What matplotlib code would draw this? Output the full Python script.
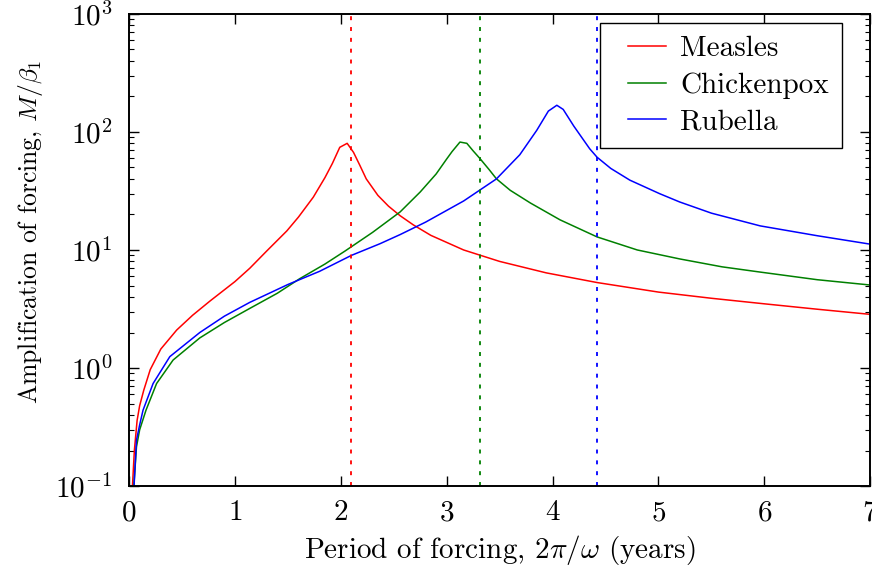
import matplotlib
matplotlib.use("Agg")
import matplotlib.pyplot as plt
from matplotlib.legend_handler import HandlerLine2D

plt.rcParams['font.family'] = ['cmr10', 'DejaVu Serif']
plt.rcParams['mathtext.fontset'] = 'cm'
plt.rcParams['axes.formatter.use_mathtext'] = True
plt.rcParams['axes.unicode_minus'] = False

# measles
measles_x = [0.032, 0.05, 0.076, 0.1, 0.139, 0.2, 0.3, 0.45, 0.6, 0.765, 1.0, 1.14,
             1.3, 1.49, 1.6, 1.74, 1.85, 1.92, 1.99, 2.06, 2.12, 2.18, 2.24, 2.35,
             2.45, 2.56, 2.685, 2.85, 3.16, 3.5, 3.94, 4.42, 5.0, 5.5, 6.0, 6.5, 7.0]
measles_y = [0.1, 0.2, 0.36, 0.48, 0.65, 0.97, 1.45, 2.1, 2.8, 3.7, 5.4, 7.0,
             9.8, 14.5, 19.0, 28.0, 41.0, 54.0, 74.0, 80.0, 67.0, 52.0, 40.0, 29.0,
             23.5, 19.5, 16.3, 13.3, 10.0, 8.0, 6.4, 5.3, 4.4, 3.9, 3.5, 3.15, 2.85]

# chickenpox
chicken_x = [0.045, 0.07, 0.1, 0.16, 0.26, 0.416, 0.668, 0.9, 1.14, 1.4, 1.61, 1.85,
             2.04, 2.3, 2.56, 2.75, 2.9, 3.0, 3.05, 3.125, 3.19, 3.25, 3.31, 3.4,
             3.47, 3.6, 3.79, 4.07, 4.42, 4.8, 5.2, 5.6, 5.96, 6.5, 7.0]
chicken_y = [0.1, 0.215, 0.3, 0.44, 0.74, 1.17, 1.8, 2.43, 3.2, 4.3, 5.7, 7.6,
             9.8, 14.1, 21.0, 31.0, 44.0, 59.0, 68.0, 82.0, 80.0, 69.0, 60.0, 48.0,
             40.0, 32.0, 25.0, 18.0, 12.9, 10.0, 8.4, 7.2, 6.5, 5.6, 5.05]

# rubella
rubella_x = [0.047, 0.07, 0.1, 0.132, 0.227, 0.385, 0.668, 0.9, 1.14, 1.5, 1.8, 2.1,
             2.37, 2.56, 2.8, 3.16, 3.47, 3.69, 3.85, 3.96, 4.04, 4.1, 4.2, 4.35,
             4.42, 4.55, 4.73, 5.01, 5.2, 5.5, 5.96, 6.5, 7.0]
rubella_y = [0.1, 0.245, 0.33, 0.44, 0.74, 1.25, 2.0, 2.75, 3.6, 5.1, 6.6, 9.0,
             11.3, 13.5, 17.2, 26.0, 40.0, 64.0, 103.0, 150.0, 168.0, 155.0, 112.0, 72.0,
             61.0, 49.0, 39.0, 30.0, 25.5, 20.5, 16.0, 13.2, 11.2]

# resonance periods (dotted lines)
resonance = [2.10, 3.31, 4.42]
names = ["Measles", "Chickenpox", "Rubella"]
colours = ["red", "green", "blue"]

fig = plt.figure(figsize=(8.72, 5.74), dpi=100)
ax = fig.add_axes([0.148, 0.153, 0.850, 0.823])

series = [(measles_x, measles_y), (chicken_x, chicken_y), (rubella_x, rubella_y)]
for (x, y), name, c in zip(series, names, colours):
    ax.plot(x, y, color=c, lw=1.1, label=name)
for xr, c in zip(resonance, colours):
    ax.axvline(xr, color=c, ls=(0, (2.2, 3.8)), lw=1.3)

ax.set_yscale("log")
ax.set_xlim(0, 7)
ax.set_ylim(0.1, 1000)
ax.set_xticks(range(0, 8))
ax.tick_params(which="both", direction="in", top=True, right=True, labelsize=21)
ax.tick_params(axis="x", pad=10)
ax.tick_params(axis="y", pad=12)
ax.tick_params(which="major", length=7.5, width=1)
ax.tick_params(which="minor", length=3.5, width=0.8)
for s in ax.spines.values():
    s.set_linewidth(1.4)

ax.set_xlabel(r"Period of forcing, $2\pi/\omega$ (years)", fontsize=21, labelpad=5)
ax.set_ylabel(r"Amplification of forcing, $M/\beta_1$", fontsize=18.5)
ax.yaxis.set_label_coords(-0.113, 0.538)

leg = ax.legend(loc="upper left", bbox_to_anchor=(0.6355, 0.981), borderaxespad=0,
                fontsize=21, fancybox=False, framealpha=1, edgecolor="black",
                handlelength=1.8, handletextpad=0.5, labelspacing=0.34,
                borderpad=0.45, handler_map={plt.Line2D: HandlerLine2D(xpad=0.5)})
leg.get_frame().set_linewidth(1.0)

fig.savefig("out.png", dpi=100)
